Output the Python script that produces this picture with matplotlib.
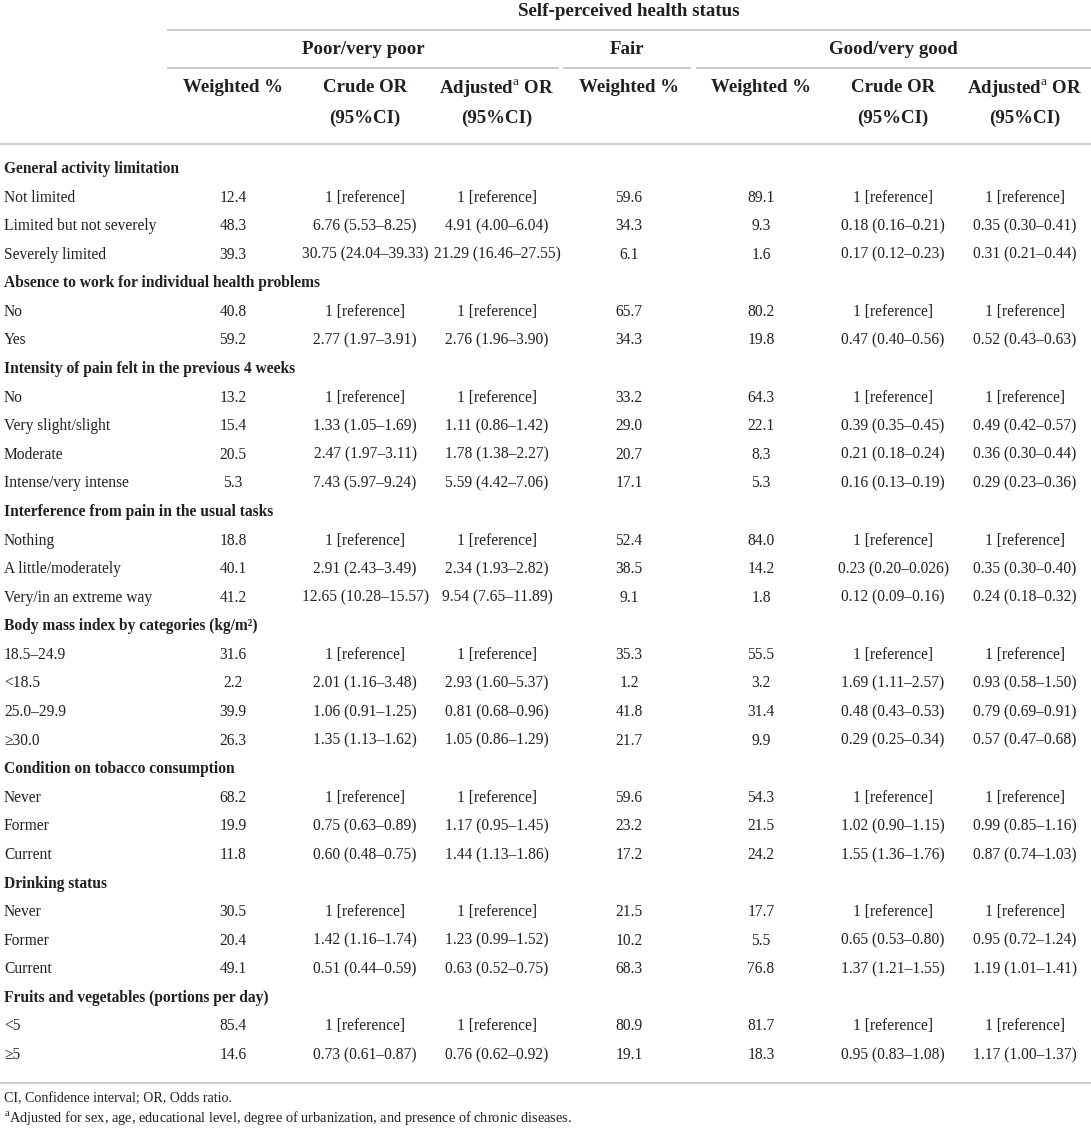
import matplotlib
matplotlib.use('Agg')
import matplotlib.pyplot as plt

plt.rcParams['font.family'] = ['Liberation Serif', 'DejaVu Serif']
plt.rcParams['mathtext.fontset'] = 'custom'
plt.rcParams['mathtext.rm'] = 'Liberation Serif'

REF = '1 [reference]'

# ---------------------------------------------------------------------------- #
# Table content
title = 'Self-perceived health status'
groups = ['Poor/very poor', 'Fair', 'Good/very good']

sections = [
    'General activity limitation',
    'Absence to work for individual health problems',
    'Intensity of pain felt in the previous 4 weeks',
    'Interference from pain in the usual tasks',
    'Body mass index by categories (kg/m\u00b2)',
    'Condition on tobacco consumption',
    'Drinking status',
    'Fruits and vegetables (portions per day)',
]

section_rows = [
    ['Not limited', 'Limited but not severely', 'Severely limited'],
    ['No', 'Yes'],
    ['No', 'Very slight/slight', 'Moderate', 'Intense/very intense'],
    ['Nothing', 'A little/moderately', 'Very/in an extreme way'],
    ['18.5\u201324.9', '<18.5', '25.0\u201329.9', '\u226530.0'],
    ['Never', 'Former', 'Current'],
    ['Never', 'Former', 'Current'],
    ['<5', '\u22655'],
]

poor_pct = [12.4, 48.3, 39.3, 40.8, 59.2, 13.2, 15.4, 20.5, 5.3, 18.8, 40.1,
            41.2, 31.6, 2.2, 39.9, 26.3, 68.2, 19.9, 11.8, 30.5, 20.4, 49.1,
            85.4, 14.6]
poor_crude = [REF, '6.76 (5.53\u20138.25)', '30.75 (24.04\u201339.33)',
              REF, '2.77 (1.97\u20133.91)',
              REF, '1.33 (1.05\u20131.69)', '2.47 (1.97\u20133.11)', '7.43 (5.97\u20139.24)',
              REF, '2.91 (2.43\u20133.49)', '12.65 (10.28\u201315.57)',
              REF, '2.01 (1.16\u20133.48)', '1.06 (0.91\u20131.25)', '1.35 (1.13\u20131.62)',
              REF, '0.75 (0.63\u20130.89)', '0.60 (0.48\u20130.75)',
              REF, '1.42 (1.16\u20131.74)', '0.51 (0.44\u20130.59)',
              REF, '0.73 (0.61\u20130.87)']
poor_adj = [REF, '4.91 (4.00\u20136.04)', '21.29 (16.46\u201327.55)',
            REF, '2.76 (1.96\u20133.90)',
            REF, '1.11 (0.86\u20131.42)', '1.78 (1.38\u20132.27)', '5.59 (4.42\u20137.06)',
            REF, '2.34 (1.93\u20132.82)', '9.54 (7.65\u201311.89)',
            REF, '2.93 (1.60\u20135.37)', '0.81 (0.68\u20130.96)', '1.05 (0.86\u20131.29)',
            REF, '1.17 (0.95\u20131.45)', '1.44 (1.13\u20131.86)',
            REF, '1.23 (0.99\u20131.52)', '0.63 (0.52\u20130.75)',
            REF, '0.76 (0.62\u20130.92)']
fair_pct = [59.6, 34.3, 6.1, 65.7, 34.3, 33.2, 29.0, 20.7, 17.1, 52.4, 38.5,
            9.1, 35.3, 1.2, 41.8, 21.7, 59.6, 23.2, 17.2, 21.5, 10.2, 68.3,
            80.9, 19.1]
good_pct = [89.1, 9.3, 1.6, 80.2, 19.8, 64.3, 22.1, 8.3, 5.3, 84.0, 14.2,
            1.8, 55.5, 3.2, 31.4, 9.9, 54.3, 21.5, 24.2, 17.7, 5.5, 76.8,
            81.7, 18.3]
good_crude = [REF, '0.18 (0.16\u20130.21)', '0.17 (0.12\u20130.23)',
              REF, '0.47 (0.40\u20130.56)',
              REF, '0.39 (0.35\u20130.45)', '0.21 (0.18\u20130.24)', '0.16 (0.13\u20130.19)',
              REF, '0.23 (0.20\u20130.026)', '0.12 (0.09\u20130.16)',
              REF, '1.69 (1.11\u20132.57)', '0.48 (0.43\u20130.53)', '0.29 (0.25\u20130.34)',
              REF, '1.02 (0.90\u20131.15)', '1.55 (1.36\u20131.76)',
              REF, '0.65 (0.53\u20130.80)', '1.37 (1.21\u20131.55)',
              REF, '0.95 (0.83\u20131.08)']
good_adj = [REF, '0.35 (0.30\u20130.41)', '0.31 (0.21\u20130.44)',
            REF, '0.52 (0.43\u20130.63)',
            REF, '0.49 (0.42\u20130.57)', '0.36 (0.30\u20130.44)', '0.29 (0.23\u20130.36)',
            REF, '0.35 (0.30\u20130.40)', '0.24 (0.18\u20130.32)',
            REF, '0.93 (0.58\u20131.50)', '0.79 (0.69\u20130.91)', '0.57 (0.47\u20130.68)',
            REF, '0.99 (0.85\u20131.16)', '0.87 (0.74\u20131.03)',
            REF, '0.95 (0.72\u20131.24)', '1.19 (1.01\u20131.41)',
            REF, '1.17 (1.00\u20131.37)']

footnotes = ['CI, Confidence interval; OR, Odds ratio.',
             r'$^{\mathrm{a}}$Adjusted for sex, age, educational level, degree of '
             'urbanization, and presence of chronic diseases.']
# ---------------------------------------------------------------------------- #

INK = '#231f20'
RULE = '#cdcdcd'
BODY = 11.2
HEAD = 13.6

fig = plt.figure(figsize=(10.91, 11.30), dpi=100)
ax = fig.add_axes([0, 0, 1, 1])
ax.set_xlim(0, 1091)
ax.set_ylim(1130, 0)
ax.axis('off')

# x centre of each of the seven data columns
col_x = [233, 365, 497, 629, 761, 893, 1025]

# Header rules
ax.hlines(30, 167, 1091, color=RULE, lw=1.5)
for x0, x1 in [(167, 559), (563, 691), (696, 1091)]:
    ax.hlines(68, x0, x1, color=RULE, lw=1.5)
ax.hlines(144, 0, 1091, color=RULE, lw=1.5)
ax.hlines(1083, 0, 1091, color=RULE, lw=1.5)

# Header text
ax.text(629, 12, title, ha='center', va='center', fontsize=HEAD,
        fontweight='bold', color=INK)
for x, g in zip([363, 627, 893], groups):
    ax.text(x, 50, g, ha='center', va='center', fontsize=HEAD,
            fontweight='bold', color=INK)

col_heads = ['Weighted %', 'Crude OR', r'Adjusted$^{\mathrm{a}}$ OR',
             'Weighted %', 'Weighted %', 'Crude OR', r'Adjusted$^{\mathrm{a}}$ OR']
for x, h in zip(col_x, col_heads):
    ax.text(x, 88, h, ha='center', va='center', fontsize=HEAD,
            fontweight='bold', color=INK)
    if 'OR' in h:
        ax.text(x, 118, '(95%CI)', ha='center', va='center', fontsize=HEAD,
                fontweight='bold', color=INK)

# Body rows
y0 = 169
dy = 28.58
row = 0
k = 0
for sec, labels in zip(sections, section_rows):
    ax.text(4, y0 + row * dy, sec, ha='left', va='center', fontsize=BODY,
            fontweight='bold', color=INK)
    row += 1
    for lab in labels:
        y = y0 + row * dy
        ax.text(4, y, lab, ha='left', va='center', fontsize=BODY, color=INK)
        cells = ['%.1f' % poor_pct[k], poor_crude[k], poor_adj[k],
                 '%.1f' % fair_pct[k], '%.1f' % good_pct[k],
                 good_crude[k], good_adj[k]]
        for x, c in zip(col_x, cells):
            ax.text(x, y, c, ha='center', va='center', fontsize=BODY, color=INK)
        row += 1
        k += 1

# Footnotes
ax.text(4, 1098, footnotes[0], ha='left', va='center', fontsize=10.1, color=INK)
ax.text(4, 1118, footnotes[1], ha='left', va='center', fontsize=10.4, color=INK)

fig.savefig('out.png', dpi=100, facecolor='white')
